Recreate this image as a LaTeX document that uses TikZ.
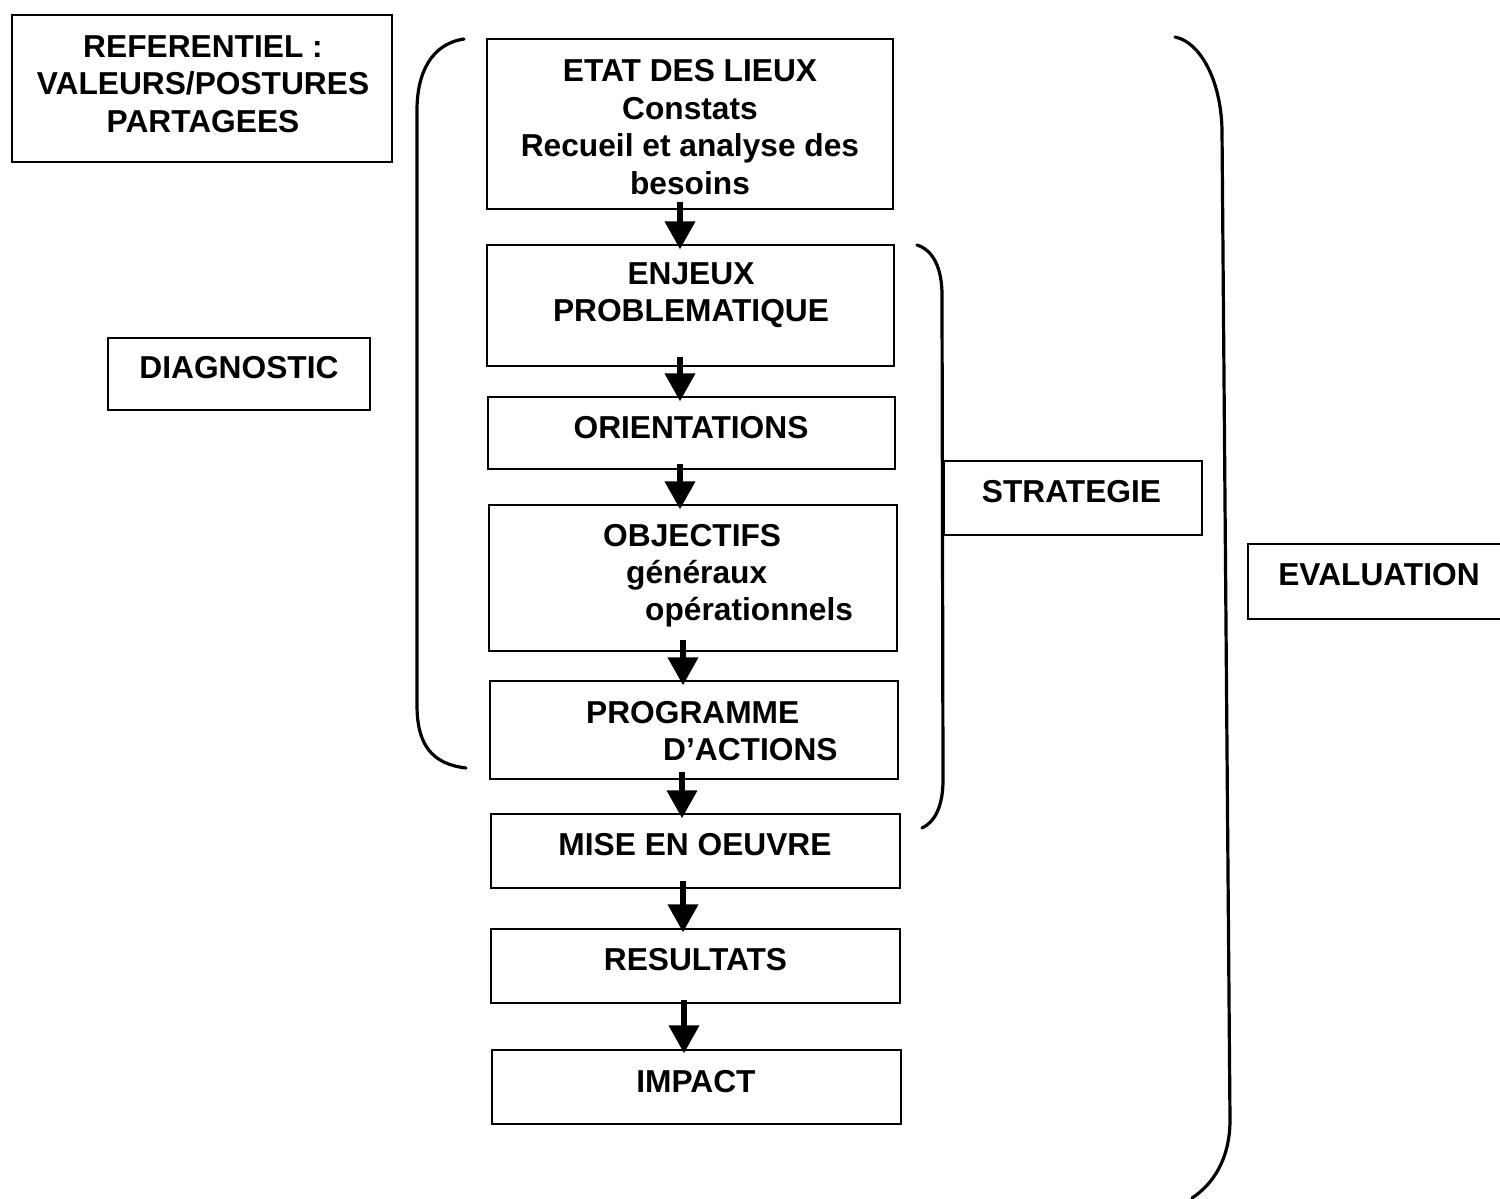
\documentclass[tikz,border=0pt]{standalone}
\usepackage{fontspec}
\setmainfont{Liberation Sans}
\usetikzlibrary{arrows.meta,calc}
\begin{document}
\begin{tikzpicture}[x=1pt,y=-1pt,
  box/.style={draw=black,line width=1.1pt,rectangle,inner sep=0pt},
  txt/.style={inner sep=0pt,align=center,font=\fontsize{31.7}{37.5}\selectfont\bfseries},
  txtl/.style={inner sep=0pt,align=left,anchor=west,font=\fontsize{31.7}{37}\selectfont\bfseries},
  arr/.style={line width=6.5pt,-{Triangle[width=29pt,length=28pt]}},
  brace/.style={line width=3.2pt,line cap=round}]
\useasboundingbox (0,0) rectangle (1500,1199);
\fill[white] (0,0) rectangle (1500,1199);
% boxes
\node[box,minimum width=380,minimum height=147] (ref) at (202,88.5) {};
\node[box,minimum width=406,minimum height=170] (etat) at (690,124) {};
\node[box,minimum width=407,minimum height=121] (enjeux) at (690.5,305.5) {};
\node[box,minimum width=407,minimum height=72] (orient) at (691.5,433) {};
\node[box,minimum width=408,minimum height=146] (obj) at (693,578) {};
\node[box,minimum width=408,minimum height=98] (prog) at (694,730) {};
\node[box,minimum width=409,minimum height=74] (mise) at (695.5,851) {};
\node[box,minimum width=409,minimum height=74] (res) at (695.5,966) {};
\node[box,minimum width=409,minimum height=74] (impact) at (696.5,1087) {};
\node[box,minimum width=262,minimum height=72] (diag) at (239,374) {};
\node[box,minimum width=258,minimum height=74] (strat) at (1073,498) {};
\node[box,minimum width=262,minimum height=75] (eval) at (1379,581.5) {};
% texts
\node[txt] (tref) at (203,84) {REFERENTIEL :\\VALEURS/POSTURES\\PARTAGEES};
\node[txt] (tetat) at (690,127) {ETAT DES LIEUX\\Constats\\Recueil et analyse des\\besoins};
\node[txt] (tenjeux) at (691,295) {ENJEUX\\PROBLEMATIQUE};
\node[txt] (torient) at (691,428) {ORIENTATIONS};
\node[txtl] (tobj) at (603,576) {OBJECTIFS\\\hspace*{23pt}généraux\\\hspace*{42pt}opérationnels};
\node[txtl] (tprog) at (586,731) {PROGRAMME\\\hspace*{77pt}D’ACTIONS};
\node[txt] (tmise) at (695,845) {MISE EN OEUVRE};
\node[txt] (tres) at (695.5,960) {RESULTATS};
\node[txt] (timpact) at (696,1082) {IMPACT};
\node[txt] (tdiag) at (239,368) {DIAGNOSTIC};
\node[txt] (tstrat) at (1071.5,492) {STRATEGIE};
\node[txt] (teval) at (1379,575) {EVALUATION};
% arrows
\draw[arr] ($(etat.south)+(-10,-8)$) -- ($(enjeux.north)+(-10.5,5)$);
\draw[arr] ($(enjeux.south)+(-10.5,-10)$) -- ($(orient.north)+(-11.5,5)$);
\draw[arr] ($(orient.south)+(-11.5,-6)$) -- ($(obj.north)+(-13,5)$);
\draw[arr] ($(obj.south)+(-10,-12)$) -- ($(prog.north)+(-11,5)$);
\draw[arr] ($(prog.south)+(-12,-8)$) -- ($(mise.north)+(-13.5,5)$);
\draw[arr] ($(mise.south)+(-12.5,-8)$) -- ($(res.north)+(-12.5,4)$);
\draw[arr] ($(res.south)+(-11.5,-4)$) -- ($(impact.north)+(-12.5,4)$);
% braces
\draw[brace] (464,39) .. controls (430,44) and (417,75) .. (417,110) -- (417,705) .. controls (417,745) and (432,764) .. (466,768);
\draw[brace] (917,245) .. controls (933,250) and (942,268) .. (942,295) -- (943,780) .. controls (943,806) and (935,822) .. (922,828);
\draw[brace] (1175,37) .. controls (1200,42) and (1221,80) .. (1222,130) -- (1230,1120) .. controls (1230,1160) and (1212,1185) .. (1192,1198);
\end{tikzpicture}
\end{document}
